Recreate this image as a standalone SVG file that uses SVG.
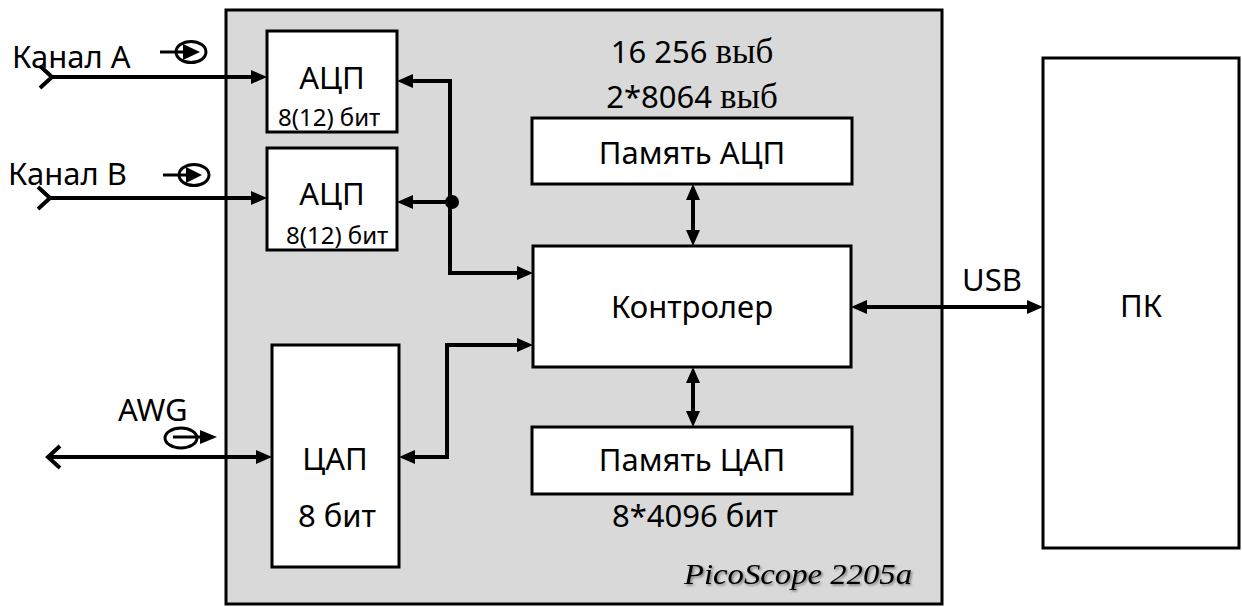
<svg xmlns="http://www.w3.org/2000/svg" width="1242" height="607" viewBox="0 0 1242 607">
  <style>
    .box { fill: #ffffff; stroke: #000000; stroke-width: 3; }
    .frame { fill: #d9d9d9; stroke: #000000; stroke-width: 3; }
    .wire { fill: none; stroke: #000000; stroke-width: 4; }
    .sym { fill: none; stroke: #000000; stroke-width: 3; }
    .head { fill: #000000; stroke: none; }
    .t { font-family: "Noto Sans", "Open Sans", sans-serif; fill: #000000; }
    .lg { font-size: 31px; }
    .sm { font-size: 24px; }
    .ser { font-family: "Liberation Serif", "DejaVu Serif", serif; font-size: 35px; }
    .model { font-family: "Liberation Serif", serif; font-style: italic; font-size: 29px; fill: #000000; }
  </style>
  <defs>
    <marker id="arrow" markerUnits="userSpaceOnUse" markerWidth="16" markerHeight="14" refX="10" refY="7" orient="auto-start-reverse" viewBox="0 0 16 14">
      <path d="M0,0 L16,7 L0,14 z" fill="#000000"/>
    </marker>
    <filter id="shadow" x="-10%" y="-30%" width="120%" height="160%">
      <feDropShadow dx="1.5" dy="1.5" stdDeviation="1" flood-color="#000000" flood-opacity="0.45"/>
    </filter>
  </defs>

  <rect width="1242" height="607" fill="#ffffff"/>

  <!-- oscilloscope housing -->
  <g id="picoscope">
    <rect class="frame" x="226" y="10" width="716" height="594"/>
    <text class="model" x="684" y="584" textLength="228" lengthAdjust="spacingAndGlyphs" filter="url(#shadow)">PicoScope 2205a</text>
  </g>

  <g id="adc-a">
    <rect class="box" x="267" y="31" width="130" height="101"/>
    <text class="t lg" x="332" y="89" text-anchor="middle">АЦП</text>
    <text class="t sm" x="278" y="126">8(12) бит</text>
  </g>

  <g id="adc-b">
    <rect class="box" x="267" y="148" width="130" height="102"/>
    <text class="t lg" x="332" y="205" text-anchor="middle">АЦП</text>
    <text class="t sm" x="286" y="244">8(12) бит</text>
  </g>

  <g id="dac">
    <rect class="box" x="272" y="345" width="127" height="222"/>
    <text class="t lg" x="335" y="470" text-anchor="middle">ЦАП</text>
    <text class="t lg" x="337" y="527" text-anchor="middle">8 бит</text>
  </g>

  <g id="adc-memory">
    <text class="t lg" x="692" y="63" text-anchor="middle">16 256 <tspan class="ser">выб</tspan></text>
    <text class="t lg" x="692" y="108" text-anchor="middle">2*8064 <tspan class="ser">выб</tspan></text>
    <rect class="box" x="532" y="118" width="320" height="66"/>
    <text class="t lg" x="692" y="164" text-anchor="middle">Память АЦП</text>
  </g>

  <g id="controller">
    <rect class="box" x="533" y="246" width="318" height="121"/>
    <text class="t lg" x="692" y="318" text-anchor="middle">Контролер</text>
  </g>

  <g id="dac-memory">
    <rect class="box" x="532" y="427" width="320" height="67"/>
    <text class="t lg" x="692" y="471" text-anchor="middle">Память ЦАП</text>
    <text class="t lg" x="695" y="527" text-anchor="middle">8*4096 бит</text>
  </g>

  <g id="pc">
    <rect class="box" x="1043" y="58" width="196" height="490"/>
    <text class="t lg" x="1141" y="317" text-anchor="middle">ПК</text>
  </g>

  <!-- inputs and output of the instrument -->
  <g id="channel-a">
    <text class="t lg" x="12" y="68">Канал А</text>
    <path class="sym" d="M160,52 H183"/>
    <ellipse class="sym" cx="191" cy="52" rx="15" ry="10.5"/>
    <path class="head" d="M183,44 L200,52 L183,60 z"/>
  </g>

  <g id="channel-b">
    <text class="t lg" x="8" y="185">Канал В</text>
    <path class="sym" d="M163,175 H186"/>
    <ellipse class="sym" cx="194" cy="175" rx="15" ry="10.5"/>
    <path class="head" d="M186,167 L202,175 L186,183 z"/>
  </g>

  <g id="awg">
    <text class="t lg" x="118" y="421">AWG</text>
    <ellipse class="sym" cx="181" cy="438" rx="16" ry="10"/>
    <path class="sym" d="M173,437 H201"/>
    <path class="head" d="M200,430 L217,437 L200,444 z"/>
  </g>

  <!-- signal and data paths -->
  <g id="connectors">
    <polyline class="wire" points="40,66 52,77 40,88"/>
    <path class="wire" d="M52,77 H261" marker-end="url(#arrow)"/>
    <polyline class="wire" points="38,187 50,198 38,209"/>
    <path class="wire" d="M50,198 H261" marker-end="url(#arrow)"/>

    <path class="wire" d="M450,81 H403" marker-end="url(#arrow)"/>
    <path class="wire" d="M450,79 V273 H527" marker-end="url(#arrow)"/>
    <path class="wire" d="M450,202 H403" marker-end="url(#arrow)"/>
    <circle cx="452" cy="202" r="7" fill="#000000"/>

    <path class="wire" d="M527,345 H447 V457 H405" marker-start="url(#arrow)" marker-end="url(#arrow)"/>

    <path class="wire" d="M693,190 V240" marker-start="url(#arrow)" marker-end="url(#arrow)"/>
    <path class="wire" d="M693,373 V421" marker-start="url(#arrow)" marker-end="url(#arrow)"/>

    <path class="wire" d="M857,307 H1037" marker-start="url(#arrow)" marker-end="url(#arrow)"/>
    <text class="t lg" x="992" y="291" text-anchor="middle">USB</text>

    <polyline class="wire" points="60,446 48,457 60,468"/>
    <path class="wire" d="M48,457 H266" marker-end="url(#arrow)"/>
  </g>
</svg>
